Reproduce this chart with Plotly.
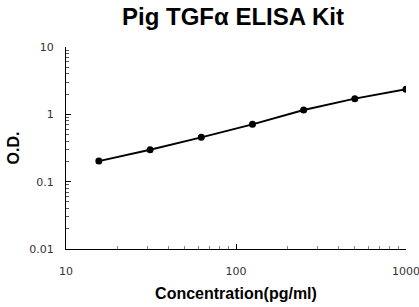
import plotly.graph_objects as go

concentration = [15.6, 31.25, 62.5, 125, 250, 500, 1000]
od_values = [0.202, 0.298, 0.455, 0.71, 1.16, 1.71, 2.35]
x_tick_vals = [10, 100, 1000]
x_tick_text = ["10", "100", "1000"]
y_tick_vals = [0.01, 0.1, 1, 10]
y_tick_text = ["0.01", "0.1", "1", "10"]

fig = go.Figure()
fig.add_trace(go.Scatter(
    x=concentration, y=od_values, mode="lines+markers",
    line=dict(color="black", width=2),
    marker=dict(color="black", size=7),
    showlegend=False,
))

axis_font = dict(family="DejaVu Sans, Verdana", size=11, color="#333333")
title_font = "Liberation Sans, Arial"
fig.update_layout(
    width=419, height=307,
    margin=dict(l=66, r=13, t=47, b=58, autoexpand=False),
    paper_bgcolor="white", plot_bgcolor="white",
    title=dict(text="<b>Pig TGFα ELISA Kit</b>", x=0.556, xref="container", xanchor="center",
               y=0.945, yref="container", yanchor="middle",
               font=dict(family=title_font, size=24, color="black")),
    font=dict(family=title_font),
)
fig.update_xaxes(
    type="log", range=[1, 3], tickvals=x_tick_vals, ticktext=x_tick_text, automargin=False,
    showline=True, linecolor="black", linewidth=1, showgrid=False, zeroline=False,
    ticks="inside", ticklen=5, tickcolor="black", tickfont=axis_font, ticklabelstandoff=12,
    ticklabeloverflow="allow",
    minor=dict(ticks="inside", ticklen=3, tickcolor="#888888", dtick="D1", showgrid=False),
    title=dict(text="<b>Concentration(pg/ml)</b>", font=dict(family=title_font, size=16, color="black"), standoff=10),
)
fig.update_yaxes(
    type="log", range=[-2, 1], tickvals=y_tick_vals, ticktext=y_tick_text, automargin=False,
    showline=True, linecolor="black", linewidth=1, showgrid=False, zeroline=False,
    ticks="inside", ticklen=5, tickcolor="black", tickfont=axis_font, ticklabelstandoff=9,
    minor=dict(ticks="inside", ticklen=3, tickcolor="#555555", dtick="D1", showgrid=False),
    title=dict(text="<b>O.D.</b>", font=dict(family=title_font, size=16, color="black"), standoff=5),
)
fig.write_html("out.html", config={"displayModeBar": False},
               post_script="document.documentElement.style.margin='0';document.body.style.margin='0';document.body.style.overflow='hidden';")
